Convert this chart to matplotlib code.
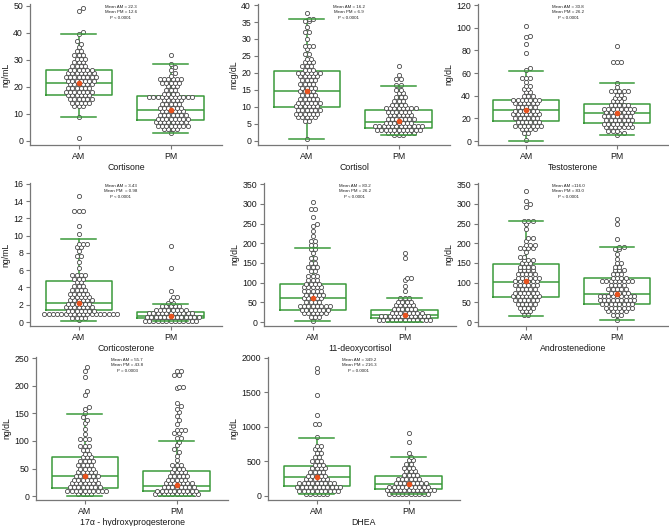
import numpy as np
import matplotlib
matplotlib.use("Agg")
import matplotlib.pyplot as plt
import matplotlib.transforms as mtransforms

plt.rcParams['font.family'] = ['Liberation Sans', 'DejaVu Sans']

groups = ["AM", "PM"]

# ---- datos: nivel (valor) y cuantos puntos hay en ese nivel ----
cortisone_am_vals = [49.3, 48.2, 40.4, 39.6, 37.0, 36.0, 34.7, 33.2, 31.8, 30.5, 29.1, 27.8, 26.4, 25.0, 23.7,
                     22.3, 21.0, 19.6, 18.2, 16.9, 15.5, 14.2, 12.8, 8.8, 1.0]
cortisone_am_n = [1, 1, 1, 1, 1, 1, 1, 2, 3, 3, 3, 4, 6, 7, 8, 7, 6, 6, 7, 6, 6, 5, 3, 1, 1]
cortisone_pm_vals = [31.8, 28.4, 27.4, 26.3, 25.0, 24.0, 22.8, 21.5, 20.2, 18.8, 17.5, 16.4, 15.0, 13.7, 12.3,
                     11.0, 9.6, 8.2, 6.9, 5.5, 4.3, 3.0]
cortisone_pm_n = [1, 1, 1, 1, 1, 1, 6, 5, 3, 3, 4, 11, 5, 5, 6, 6, 7, 8, 8, 8, 4, 1]

cortisol_am_vals = [37.7, 36.0, 35.2, 33.4, 32.0, 30.0, 28.0, 27.0, 25.6, 24.2, 23.1, 22.0, 21.0, 20.0, 19.0,
                    17.9, 16.8, 15.7, 14.6, 13.5, 12.4, 11.3, 10.2, 9.1, 8.0, 6.9, 6.0, 0.5]
cortisol_am_n = [1, 2, 2, 1, 2, 1, 3, 1, 2, 2, 3, 3, 3, 6, 5, 4, 4, 4, 4, 4, 5, 6, 6, 6, 6, 5, 2, 1]
cortisol_pm_vals = [22.0, 19.3, 18.3, 16.4, 15.0, 14.0, 12.9, 11.8, 10.7, 9.7, 8.6, 7.6, 6.5, 5.4, 4.3, 3.3,
                    2.4, 1.6]
cortisol_pm_n = [1, 1, 2, 2, 2, 2, 3, 3, 4, 8, 6, 6, 7, 7, 12, 11, 7, 3]

testo_am_vals = [102, 93, 91.8, 85.3, 77.4, 64.5, 62.5, 56, 52.5, 49, 46, 43, 40, 36.6, 33.3, 30.0, 26.8, 23.5,
                 20.2, 17.0, 13.7, 10.5, 7.5, 0.5]
testo_am_n = [1, 1, 1, 1, 1, 1, 1, 3, 1, 2, 2, 2, 3, 7, 6, 5, 6, 7, 6, 6, 7, 4, 2, 1]
testo_pm_vals = [84.3, 69.5, 51.5, 48, 44.4, 41, 38, 35, 31.7, 28.5, 25.2, 22, 18.7, 15.4, 12.1, 8.8, 7.5, 5.2]
testo_pm_n = [1, 3, 1, 1, 5, 2, 3, 3, 5, 8, 7, 7, 7, 7, 7, 3, 2, 1]

cortico_am_vals = [14.6, 12.8, 11.1, 10.2, 9.0, 8.7, 8.2, 7.6, 7.0, 6.3, 5.4, 5.0, 4.6, 4.2, 3.7, 3.3, 2.9, 2.5,
                   2.1, 1.7, 1.3, 0.9, 0.5, 0.2]
cortico_am_n = [1, 3, 1, 1, 3, 2, 1, 2, 1, 1, 4, 3, 2, 3, 4, 5, 5, 6, 6, 7, 7, 18, 4, 1]
cortico_pm_vals = [8.8, 6.2, 3.6, 2.9, 2.6, 2.2, 1.85, 1.45, 1.0, 0.58, 0.15]
cortico_pm_n = [1, 1, 1, 2, 1, 2, 5, 8, 11, 13, 13]

deoxy_am_vals = [305, 288, 266, 248, 243, 230, 218, 207, 195, 185, 175, 163, 150, 140, 130, 118, 108, 97, 88, 78,
                 69, 60, 50, 41, 31.5, 22, 12.5, 3]
deoxy_am_n = [1, 2, 1, 1, 1, 1, 1, 2, 2, 2, 1, 2, 2, 3, 2, 3, 3, 4, 5, 5, 5, 5, 4, 8, 7, 6, 3, 1]
deoxy_pm_vals = [175, 162, 113, 108, 92, 78, 62, 52, 43, 33.5, 24, 14.5, 5]
deoxy_pm_n = [1, 1, 2, 1, 1, 1, 3, 4, 5, 6, 8, 12, 13]

andro_am_vals = [333, 308, 300, 293, 257, 250, 237, 213, 205, 195, 188, 178, 165, 158, 150, 141, 131, 122, 112,
                 103, 93, 84, 74, 65, 55, 46, 36, 27, 17]
andro_am_n = [1, 1, 1, 1, 3, 1, 1, 2, 1, 3, 4, 1, 2, 3, 3, 4, 4, 5, 6, 6, 6, 5, 6, 7, 6, 5, 4, 3, 2]
andro_pm_vals = [262, 250, 210, 190, 185, 172, 160, 150, 141, 131, 122, 112, 103, 93, 84, 74, 65, 55, 46, 36, 27,
                 17, 6]
andro_pm_n = [1, 1, 1, 2, 2, 1, 1, 2, 2, 3, 3, 4, 8, 4, 5, 5, 9, 9, 8, 7, 5, 3, 1]

ohp_am_vals = [233, 227, 216, 190, 183, 162, 158, 150, 143, 138, 132, 122, 113, 103, 90, 84, 77, 70, 64, 57, 50,
               44, 37, 30, 24, 17, 10, 3]
ohp_am_n = [1, 1, 1, 1, 1, 1, 1, 1, 1, 1, 1, 1, 1, 3, 3, 2, 2, 3, 4, 4, 4, 5, 6, 6, 7, 8, 10, 4]
ohp_pm_vals = [226, 219, 197, 195, 168, 163, 158, 152, 145, 137, 130, 120, 115, 105, 98, 92, 85, 80, 73, 65, 56,
               50, 43, 37, 30, 24, 17, 10, 3]
ohp_pm_n = [2, 2, 2, 1, 1, 1, 1, 1, 1, 1, 1, 3, 2, 2, 1, 1, 1, 1, 1, 1, 3, 3, 4, 5, 5, 7, 8, 10, 11]

dhea_am_vals = [1850, 1790, 1460, 1180, 1040, 850, 730, 680, 620, 565, 510, 455, 400, 350, 295, 240, 185, 130,
                75, 25]
dhea_am_n = [1, 1, 1, 1, 2, 1, 2, 2, 2, 2, 3, 3, 4, 4, 5, 6, 9, 11, 10, 6]
dhea_pm_vals = [920, 780, 630, 570, 520, 465, 410, 355, 300, 245, 190, 135, 80, 30]
dhea_pm_n = [1, 1, 1, 1, 2, 2, 3, 3, 4, 6, 8, 10, 12, 10]

# estadisticos de las cajas [AM, PM]
cortisone_box = dict(q1=[17.0, 7.6], med=[21.4, 11.5], q3=[26.2, 16.8], lo=[8.8, 3.0], hi=[39.5, 28.4], mid=[21.4, 11.5])
cortisol_box = dict(q1=[9.9, 3.7], med=[14.7, 5.7], q3=[20.6, 9.0], lo=[0.5, 1.6], hi=[35.9, 16.2], mid=[14.7, 6.0])
testo_box = dict(q1=[17.9, 15.6], med=[27.1, 24.5], q3=[35.9, 33.0], lo=[0, 5], hi=[62, 51], mid=[27, 25])
cortico_box = dict(q1=[1.36, 0.47], med=[2.2, 0.7], q3=[4.8, 1.17], lo=[0.15, 0.12], hi=[9.6, 2.14], mid=[2.2, 0.66])
deoxy_box = dict(q1=[31.6, 11.1], med=[60.6, 18.8], q3=[97.3, 30.7], lo=[1.7, 0], hi=[187.8, 61.5], mid=[61.5, 18.8])
andro_box = dict(q1=[64, 47], med=[101.6, 70], q3=[148.5, 111], lo=[14.5, 6], hi=[256, 189.5], mid=[103, 71.7])
ohp_box = dict(q1=[14.6, 9.1], med=[35.8, 18.8], q3=[71, 46], lo=[0, 0], hi=[148.7, 99.5], mid=[37, 19.4])
dhea_box = dict(q1=[146, 97], med=[272, 170], q3=[437, 286], lo=[24, 24], hi=[835, 568], mid=[277, 170])

notes = ["Mean AM = 22.3\nMean PM = 12.6\nP < 0.0001",
         "Mean AM = 16.2\nMean PM = 6.9\nP < 0.0001",
         "Mean AM = 30.8\nMean PM = 26.2\nP < 0.0001",
         "Mean AM = 3.43\nMean PM  = 0.98\nP < 0.0001",
         "Mean AM = 80.2\nMean PM = 26.2\nP < 0.0001",
         "Mean AM =116.0\nMean PM = 83.0\nP < 0.0001",
         "Mean AM = 55.7\nMean PM = 43.8\nP = 0.0003",
         "Mean AM = 349.2\nMean PM = 216.3\nP = 0.0001"]

W, H = 669, 526
green = "#3a9a3a"

def dot_rows(vals, ns, ppu_y, d):
    # cada nivel es una fila centrada; se desplaza media celda si choca con lo ya puesto
    placed = []
    xs, ys = [], []
    for i in np.argsort(vals, kind="stable"):
        n = ns[i]
        y = vals[i] * ppu_y
        base = (np.arange(n) - (n - 1) / 2) * d
        near = [(px, py) for px, py in placed if abs(py - y) < d]
        best = None
        for s in (0, d / 2, -d / 2, d, -d):
            cand = base + s
            cost = 0.0
            for cx in cand:
                for px, py in near:
                    cost += max(0.0, 0.9 * d - np.hypot(cx - px, y - py))
            if best is None or cost < best[0] - 1e-9:
                best = (cost, cand)
        for cx in best[1]:
            placed.append((cx, y))
            xs.append(cx)
            ys.append(vals[i])
    return np.array(xs), np.array(ys)

paneles = [
    ("Cortisone", "ng/mL", cortisone_am_vals, cortisone_am_n, cortisone_pm_vals, cortisone_pm_n, cortisone_box,
     (-1.5, 50.7), np.arange(0, 51, 10), (30, 4, 145)),
    ("Cortisol", "mcg/dL", cortisol_am_vals, cortisol_am_n, cortisol_pm_vals, cortisol_pm_n, cortisol_box,
     (-1.2, 40.3), np.arange(0, 41, 5), (258, 4, 145)),
    ("Testosterone", "ng/dL", testo_am_vals, testo_am_n, testo_pm_vals, testo_pm_n, testo_box,
     (-3.5, 121), np.arange(0, 121, 20), (478, 4, 145)),
    ("Corticosterone", "ng/mL", cortico_am_vals, cortico_am_n, cortico_pm_vals, cortico_pm_n, cortico_box,
     (-0.46, 16.1), np.arange(0, 17, 2), (30, 183, 326)),
    ("11-deoxycortisol", "ng/dL", deoxy_am_vals, deoxy_am_n, deoxy_pm_vals, deoxy_pm_n, deoxy_box,
     (-10, 353), np.arange(0, 351, 50), (264, 183, 326)),
    ("Androstenedione", "ng/dL", andro_am_vals, andro_am_n, andro_pm_vals, andro_pm_n, andro_box,
     (-10, 353), np.arange(0, 351, 50), (478, 183, 326)),
    ("17\u03b1 - hydroxyprogesterone", "ng/dL", ohp_am_vals, ohp_am_n, ohp_pm_vals, ohp_pm_n, ohp_box,
     (-7, 252), np.arange(0, 251, 50), (36, 357, 500)),
    ("DHEA", "ng/dL", dhea_am_vals, dhea_am_n, dhea_pm_vals, dhea_pm_n, dhea_box,
     (-58, 2014), np.arange(0, 2001, 500), (268, 357, 500)),
]

fig = plt.figure(figsize=(W / 100, H / 100), dpi=100)

for k, (nombre, unidad, av, an, pv, pn, box, ylim, yt, (left, top, bottom)) in enumerate(paneles):
    width = 190 if left > 400 else 192
    ax = fig.add_axes([left / W, 1 - bottom / H, width / W, (bottom - top) / H])
    ax.set_xlim(-0.53, 1.56)
    ax.set_ylim(*ylim)

    # cajas
    stats = []
    for g in range(2):
        stats.append(dict(q1=box["q1"][g], med=box["med"][g], q3=box["q3"][g],
                          whislo=box["lo"][g], whishi=box["hi"][g], fliers=[]))
    ax.bxp(stats, positions=[0, 1], widths=0.72, capwidths=0.38, showfliers=False,
           boxprops=dict(color=green, lw=1.1), whiskerprops=dict(color=green, lw=1.1),
           capprops=dict(color=green, lw=1.1, zorder=5), medianprops=dict(color=green, lw=1.1),
           manage_ticks=False, zorder=1)

    # puntos
    ppu_y = ax.transData.transform((0, 1))[1] - ax.transData.transform((0, 0))[1]
    ppu_x = ax.transData.transform((1, 0))[0] - ax.transData.transform((0, 0))[0]
    for g, (vals, ns) in enumerate([(av, an), (pv, pn)]):
        xo, y = dot_rows(np.array(vals, float), ns, ppu_y, 4.3)
        ax.plot(g + xo / ppu_x, y, "o", ms=3.0, mfc="white", mec="#4a4a4a", mew=0.6,
                ls="none", zorder=3, clip_on=False)
        ax.plot(g, box["mid"][g], "o", ms=3.0, color="#e8531f", mec="#e8531f", zorder=6)

    ax.set_xticks([0, 1])
    ax.set_xticklabels(groups)
    ax.set_yticks(yt)
    for s in ["top", "right"]:
        ax.spines[s].set_visible(False)
    for s in ["left", "bottom"]:
        ax.spines[s].set_color("#777777")
        ax.spines[s].set_linewidth(0.9)
    ax.tick_params(length=3, width=0.8, color="#777777", labelsize=6.3, pad=2, labelcolor="#1a1a1a")
    ax.set_xlabel(nombre, fontsize=6.3, labelpad=1.5, color="#1a1a1a")
    ax.set_ylabel(unidad, fontsize=6.3, labelpad=2, color="#1a1a1a")

    trans = mtransforms.blended_transform_factory(ax.transData, ax.transAxes)
    ax.text(0.46, 0.995, notes[k], transform=trans, ha="center", va="top",
            fontsize=3.2, linespacing=1.5, color="#222222")

fig.savefig("out.png", dpi=100)
